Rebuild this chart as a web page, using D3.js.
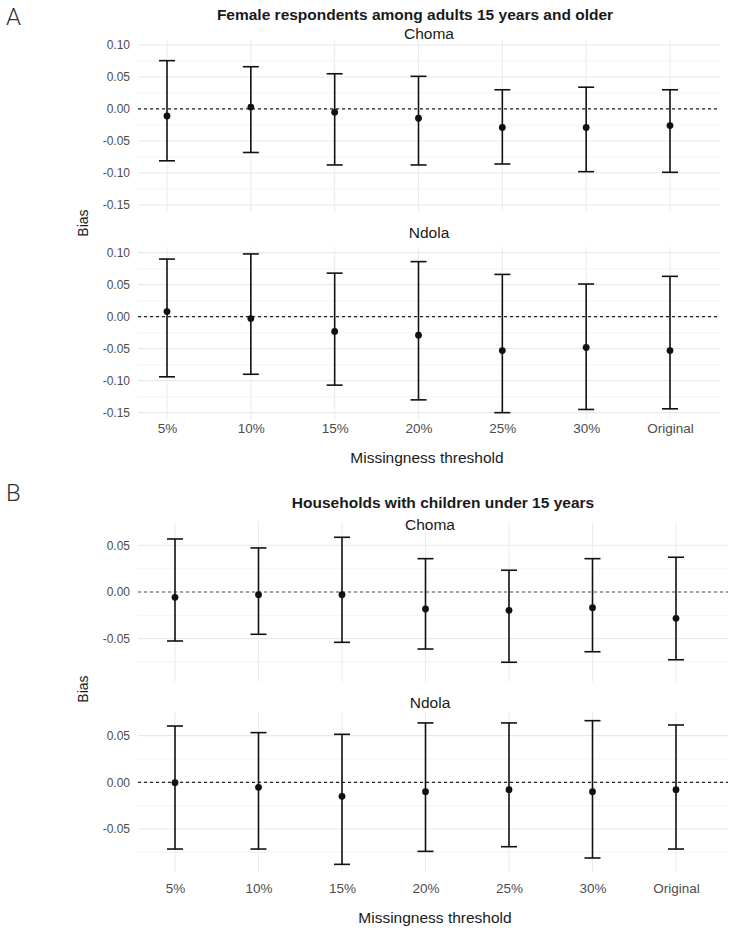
<!DOCTYPE html>
<html>
<head>
<meta charset="utf-8">
<script src="https://cdn.jsdelivr.net/npm/d3@7"></script>
<style>
  body { margin: 0; background: #fff; }
  svg { display: block; font-family: "Liberation Sans", Arial, sans-serif; }
</style>
</head>
<body>
<div id="chart"></div>
<script>
// categories on the x axis
const categories = ["5%", "10%", "15%", "20%", "25%", "30%", "Original"]

// A: female respondents among adults 15 years and older
const femaleChomaEst  = [-0.011, 0.003, -0.005, -0.0145, -0.029, -0.029, -0.026]
const femaleChomaLow  = [-0.081, -0.068, -0.0875, -0.0875, -0.086, -0.098, -0.099]
const femaleChomaHigh = [0.0755, 0.066, 0.055, 0.051, 0.030, 0.034, 0.030]

const femaleNdolaEst  = [0.008, -0.003, -0.023, -0.029, -0.053, -0.048, -0.053]
const femaleNdolaLow  = [-0.094, -0.090, -0.107, -0.130, -0.150, -0.145, -0.144]
const femaleNdolaHigh = [0.090, 0.098, 0.068, 0.086, 0.066, 0.051, 0.063]

// B: households with children under 15 years
const hhChomaEst  = [-0.0057, -0.0029, -0.0029, -0.0182, -0.0196, -0.0168, -0.0282]
const hhChomaLow  = [-0.0525, -0.0453, -0.0539, -0.0611, -0.0753, -0.064, -0.0726]
const hhChomaHigh = [0.0568, 0.0472, 0.0586, 0.0357, 0.0233, 0.0357, 0.0372]

const hhNdolaEst  = [-0.0004, -0.0054, -0.015, -0.0101, -0.0079, -0.0101, -0.0079]
const hhNdolaLow  = [-0.0715, -0.0715, -0.0879, -0.074, -0.069, -0.0811, -0.0715]
const hhNdolaHigh = [0.0603, 0.0532, 0.0514, 0.0636, 0.0636, 0.066, 0.0614]

const ticksA = [-0.15, -0.10, -0.05, 0, 0.05, 0.10]
const minorA = [-0.125, -0.075, -0.025, 0.025, 0.075]
const ticksB = [-0.05, 0, 0.05]
const minorB = [-0.075, -0.025, 0.025]

const W = 733, H = 932
const svg = d3.select("#chart").append("svg")
    .attr("width", W)
    .attr("height", H)

const fmt = d => d3.format(".2f")(d).replace("\u2212", "-")

function rows(est, low, high)
{
    return categories.map((c, i) => ({cat: c, est: est[i], low: low[i], high: high[i]}))
}

function drawPanel(p)
{
    var g = svg.append("g")
    var x = d3.scalePoint().domain(categories).range(p.xRange)
    var y = d3.scaleLinear().domain(p.yDomain).range([p.bottom, p.top])

    // minor + major horizontal grid
    g.selectAll(".minor").data(p.minor).join("line")
        .attr("x1", p.left).attr("x2", p.right)
        .attr("y1", d => y(d)).attr("y2", d => y(d))
        .attr("stroke", "#f1f1f1").attr("stroke-width", 0.8)
    g.selectAll(".major").data(p.ticks).join("line")
        .attr("x1", p.left).attr("x2", p.right)
        .attr("y1", d => y(d)).attr("y2", d => y(d))
        .attr("stroke", "#e9e9e9").attr("stroke-width", 1.1)
    g.selectAll(".vgrid").data(categories).join("line")
        .attr("x1", d => x(d)).attr("x2", d => x(d))
        .attr("y1", p.top).attr("y2", p.bottom)
        .attr("stroke", "#ececec").attr("stroke-width", 1.1)

    // reference line at zero
    g.append("line")
        .attr("x1", p.left).attr("x2", p.right)
        .attr("y1", y(0)).attr("y2", y(0))
        .attr("stroke", p.zeroColor)
        .attr("stroke-width", 1.3)
        .attr("stroke-dasharray", "3,3")

    // y axis labels
    var yAxis = d3.axisLeft(y).tickValues(p.ticks).tickFormat(fmt).tickSize(0).tickPadding(8)
    var ya = g.append("g").attr("transform", `translate(${p.left},0)`).call(yAxis)
    ya.select(".domain").remove()
    ya.selectAll("text")
        .attr("fill", "#4d4d4d")
        .style("font-size", "12px")
        .style("font-family", "Liberation Sans, Arial, sans-serif")

    // error bars
    var data = p.data
    var cap = 8
    g.selectAll(".eb").data(data).join("line")
        .attr("x1", d => x(d.cat)).attr("x2", d => x(d.cat))
        .attr("y1", d => y(d.low)).attr("y2", d => y(d.high))
        .attr("stroke", "#111").attr("stroke-width", 1.6)
    g.selectAll(".capLow").data(data).join("line")
        .attr("x1", d => x(d.cat) - cap).attr("x2", d => x(d.cat) + cap)
        .attr("y1", d => y(d.low)).attr("y2", d => y(d.low))
        .attr("stroke", "#111").attr("stroke-width", 1.6)
    g.selectAll(".capHigh").data(data).join("line")
        .attr("x1", d => x(d.cat) - cap).attr("x2", d => x(d.cat) + cap)
        .attr("y1", d => y(d.high)).attr("y2", d => y(d.high))
        .attr("stroke", "#111").attr("stroke-width", 1.6)
    g.selectAll(".pt").data(data).join("circle")
        .attr("cx", d => x(d.cat)).attr("cy", d => y(d.est))
        .attr("r", 3.4)
        .attr("fill", "#111")

    // strip label
    g.append("text")
        .attr("x", p.stripX).attr("y", p.stripY)
        .attr("text-anchor", "middle")
        .attr("dominant-baseline", "central")
        .attr("fill", "#1a1a1a")
        .style("font-size", "15.5px")
        .text(p.name)

    // x axis labels
    if (p.xLabelY)
    {
        var xAxis = d3.axisBottom(x).tickSize(0).tickPadding(0)
        var xa = g.append("g").attr("transform", `translate(0,${p.xLabelY})`).call(xAxis)
        xa.select(".domain").remove()
        xa.selectAll("text")
            .attr("dy", "0.35em")
            .attr("y", 0)
            .attr("fill", "#4d4d4d")
            .style("font-size", "13.5px")
            .style("font-family", "Liberation Sans, Arial, sans-serif")
    }
}

function label(txt, xPos, yPos, size, opts)
{
    opts = opts || {}
    var t = svg.append("text")
        .attr("x", xPos).attr("y", yPos)
        .attr("text-anchor", opts.anchor || "middle")
        .attr("dominant-baseline", "central")
        .attr("fill", opts.fill || "#1a1a1a")
        .style("font-size", size + "px")
        .text(txt)
    if (opts.weight) t.style("font-weight", opts.weight)
    if (opts.family) t.style("font-family", opts.family)
    if (opts.rotate) t.attr("transform", `rotate(-90,${xPos},${yPos})`)
    return t
}

// ---- A ----
label("A", 6, 17, 24, {anchor: "start", weight: 300, family: "Roboto, sans-serif", fill: "#333"})
label("Female respondents among adults 15 years and older", 415, 14, 15.5, {weight: "bold"})
drawPanel({
    name: "Choma", left: 138, right: 720, xRange: [167, 670],
    top: 39.2, bottom: 212, yDomain: [-0.161, 0.109],
    ticks: ticksA, minor: minorA, zeroColor: "#222",
    stripX: 429, stripY: 33,
    data: rows(femaleChomaEst, femaleChomaLow, femaleChomaHigh)
})
drawPanel({
    name: "Ndola", left: 138, right: 720, xRange: [167, 670],
    top: 246.9, bottom: 419.7, yDomain: [-0.161, 0.109],
    ticks: ticksA, minor: minorA, zeroColor: "#222",
    stripX: 429, stripY: 232, xLabelY: 428,
    data: rows(femaleNdolaEst, femaleNdolaLow, femaleNdolaHigh)
})
label("Bias", 83, 223, 14, {rotate: true})
label("Missingness threshold", 427, 457, 15.5)

// ---- B ----
label("B", 6, 493, 24, {anchor: "start", weight: 300, family: "Roboto, sans-serif", fill: "#333"})
label("Households with children under 15 years", 443, 502, 15.5, {weight: "bold"})
drawPanel({
    name: "Choma", left: 138, right: 728, xRange: [175, 676],
    top: 521.7, bottom: 681.7, yDomain: [-0.0961, 0.0753],
    ticks: ticksB, minor: minorB, zeroColor: "#888",
    stripX: 430, stripY: 524,
    data: rows(hhChomaEst, hhChomaLow, hhChomaHigh)
})
drawPanel({
    name: "Ndola", left: 138, right: 728, xRange: [175, 676],
    top: 712, bottom: 872, yDomain: [-0.0961, 0.0753],
    ticks: ticksB, minor: minorB, zeroColor: "#222",
    stripX: 430, stripY: 702, xLabelY: 888,
    data: rows(hhNdolaEst, hhNdolaLow, hhNdolaHigh)
})
label("Bias", 83, 689, 14, {rotate: true})
label("Missingness threshold", 435, 917, 15.5)
</script>
</body>
</html>
